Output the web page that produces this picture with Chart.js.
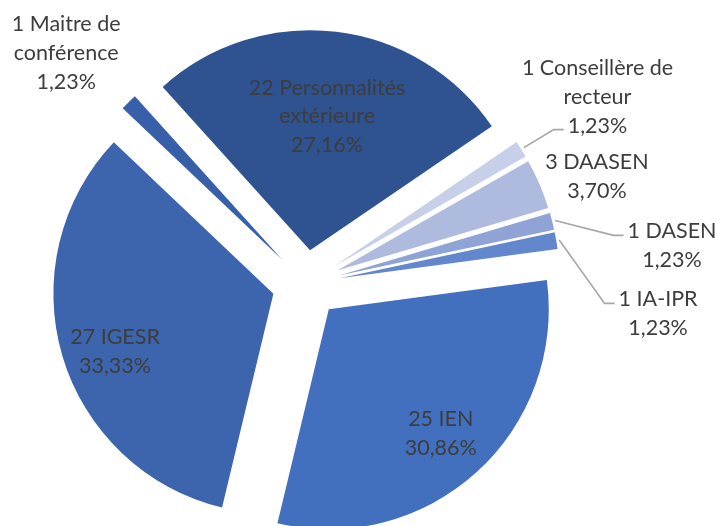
<!DOCTYPE html>
<html><head><meta charset="utf-8">
<script src="https://cdn.jsdelivr.net/npm/chart.js@4.4.1/dist/chart.umd.min.js"></script>
<style>html,body{margin:0;padding:0;background:#fff;} canvas{display:block;}</style>
</head><body>
<canvas id="c" width="716" height="526"></canvas>
<script>
// ---- data ----
const categories = ["Personnalités extérieure", "Conseillère de recteur", "DAASEN", "DASEN", "IA-IPR", "IEN", "IGESR", "Maitre de conférence"];
const counts = [22, 1, 3, 1, 1, 25, 27, 1];
const sliceColors = ["#2F5290", "#C7D0E8", "#AEBBDE", "#8FA3D6", "#6387CC", "#4270BF", "#3C65AE", "#3860A8"];

// ---- layout / style ----
const EXPLODE = 34;
const FONT = '21.5px Lato, "Open Sans", sans-serif';
const LINE_H = 28.7;
const TEXT_COLOR = '#3d3d3d';
// break label after n words (0 = no break); r = distance from slice centre in radii, da = degrees from mid angle
const labelLayout = [
  {brk: 2, r: 0.613, da: 0.4},
  {brk: 3, r: 1.42, da: -0.7, leader: 2},
  {brk: 0, r: 1.255, da: 3.3},
  {brk: 0, r: 1.52, da: 9.15, leader: 0},
  {brk: 0, r: 1.457, da: 16.2, leader: 0},
  {brk: 0, r: 0.76, da: 0},
  {brk: 0, r: 0.766, da: -3.5},
  {brk: 3, r: 1.359, da: -2.0}
];

const total = counts.reduce((a, b) => a + b, 0);
function buildLines(i) {
  const words = (counts[i] + ' ' + categories[i]).split(' ');
  const b = labelLayout[i].brk;
  const lines = b ? [words.slice(0, b).join(' '), words.slice(b).join(' ')] : [words.join(' ')];
  lines.push((counts[i] / total * 100).toFixed(2).replace('.', ',') + '%');
  return lines;
}

// exploded slices: shift each arc along its mid angle
const baseArcDraw = Chart.ArcElement.prototype.draw;
Chart.ArcElement.prototype.draw = function (ctx) {
  const mid = (this.startAngle + this.endAngle) / 2;
  ctx.save();
  ctx.translate(Math.cos(mid) * EXPLODE, Math.sin(mid) * EXPLODE);
  baseArcDraw.call(this, ctx);
  ctx.restore();
};

const labelPlugin = {
  id: 'sliceLabels',
  afterDatasetsDraw(chart) {
    const ctx = chart.ctx;
    const meta = chart.getDatasetMeta(0);
    ctx.save();
    ctx.font = FONT;
    ctx.fillStyle = TEXT_COLOR;
    ctx.textAlign = 'center';
    ctx.textBaseline = 'middle';
    meta.data.forEach((arc, i) => {
      const p = arc.getProps(['x', 'y', 'startAngle', 'endAngle', 'outerRadius'], true);
      const mid = (p.startAngle + p.endAngle) / 2;
      const cx = p.x + Math.cos(mid) * EXPLODE, cy = p.y + Math.sin(mid) * EXPLODE;
      const L = labelLayout[i];
      const a = mid + L.da * Math.PI / 180;
      const lx = cx + Math.cos(a) * L.r * p.outerRadius;
      const ly = cy + Math.sin(a) * L.r * p.outerRadius;
      const lines = buildLines(i);
      const top = ly - (lines.length - 1) * LINE_H / 2;
      lines.forEach((t, k) => ctx.fillText(t, lx, top + k * LINE_H));
      if (L.leader !== undefined) {
        const k = L.leader;
        const w = ctx.measureText(lines[k]).width;
        const ex = lx - w / 2 - 4, ey = top + k * LINE_H + 4;
        const sx = cx + Math.cos(mid) * (p.outerRadius + 3), sy = cy + Math.sin(mid) * (p.outerRadius + 3);
        ctx.beginPath();
        ctx.moveTo(sx, sy);
        ctx.lineTo(ex - 10, ey);
        ctx.lineTo(ex, ey);
        ctx.strokeStyle = '#A6A6A6';
        ctx.lineWidth = 1.6;
        ctx.stroke();
      }
    });
    ctx.restore();
  }
};

new Chart(document.getElementById('c'), {
  type: 'pie',
  data: {
    labels: categories,
    datasets: [{
      data: counts,
      backgroundColor: sliceColors,
      borderWidth: 0,
      clip: false
    }]
  },
  options: {
    responsive: false,
    animation: false,
    events: [],
    rotation: -42.06,
    radius: 220,
    layout: {padding: {left: 0, right: 104, top: 42, bottom: 0}},
    plugins: {legend: {display: false}, tooltip: {enabled: false}}
  },
  plugins: [labelPlugin]
});
</script>
</body></html>
